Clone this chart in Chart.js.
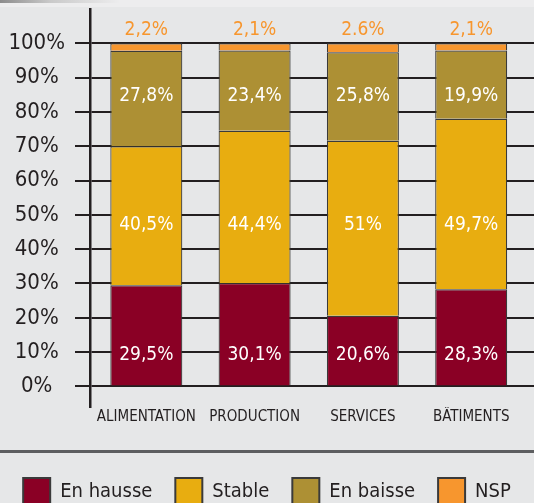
<!DOCTYPE html>
<html>
<head>
<meta charset="utf-8">
<script src="https://cdn.jsdelivr.net/npm/chart.js@4"></script>
<style>
html, body { margin: 0; padding: 0; background: #e6e7e8; overflow: hidden; }
#wrap { position: relative; width: 534px; height: 503px; overflow: hidden; }
#strip { position: absolute; left: 0; top: 0; width: 534px; height: 7px; background: #ededee; }
#shade { position: absolute; left: 0; top: 0; width: 534px; height: 3px; background: linear-gradient(to right, #8c8c8c 0, #c9c9c9 50px, rgba(236,236,236,0) 120px); }
#rule { position: absolute; left: 0; top: 450px; width: 534px; height: 3px; background: #5d5e60; }
canvas { position: absolute; left: 0; top: 0; }
</style>
</head>
<body>
<div id="wrap">
  <div id="strip"></div>
  <div id="shade"></div>
  <div id="rule"></div>
  <canvas id="myChart" width="534" height="515"></canvas>
</div>
<script>
const categories = ['ALIMENTATION', 'PRODUCTION', 'SERVICES', 'BÂTIMENTS'];
const enHausse = [29.5, 30.1, 20.6, 28.3];
const stable = [40.5, 44.4, 51, 49.7];
const enBaisse = [27.8, 23.4, 25.8, 19.9];
const nsp = [2.2, 2.1, 2.6, 2.1];
const nspText = ['2,2%', '2,1%', '2.6%', '2,1%'];
const yTicks = [0, 10, 20, 30, 40, 50, 60, 70, 80, 90, 100];

const family = '"DejaVu Sans Condensed", "Liberation Sans Narrow", sans-serif';
const ink = '#231f20';

const pct = v => String(v).replace('.', ',') + '%';
const toPoints = arr => arr.map((v, i) => ({ x: i, y: v }));

// texte des valeurs dans / au-dessus des barres
const valueLabels = {
    id: 'valueLabels',
    afterDatasetsDraw(chart) {
        const ctx = chart.ctx;
        const yScale = chart.scales.y;
        ctx.save();
        ctx.font = '19px ' + family;
        ctx.textAlign = 'center';
        ctx.textBaseline = 'middle';
        chart.data.datasets.forEach((ds, i) => {
            chart.getDatasetMeta(i).data.forEach((bar, j) => {
                ctx.fillStyle = ds.labelColor;
                ctx.fillText(ds.labelText[j], bar.x, yScale.getPixelForValue(ds.labelRow));
            });
        });
        ctx.restore();
    }
};

const noPad = s => { s.paddingTop = 0; s.paddingBottom = 0; s.paddingLeft = 0; s.paddingRight = 0; };

const context = document.getElementById('myChart').getContext('2d');
const myChart = new Chart(context, {
    type: 'bar',
    data: {
        datasets: [
            { label: 'En hausse', data: toPoints(enHausse), backgroundColor: '#8a0025',
              labelText: enHausse.map(pct), labelRow: 9, labelColor: '#ffffff' },
            { label: 'Stable', data: toPoints(stable), backgroundColor: '#e8ad10',
              labelText: stable.map(pct), labelRow: 47, labelColor: '#ffffff' },
            { label: 'En baisse', data: toPoints(enBaisse), backgroundColor: '#ad9034',
              labelText: enBaisse.map(pct), labelRow: 84.6, labelColor: '#ffffff' },
            { label: 'NSP', data: toPoints(nsp), backgroundColor: '#f7962e',
              labelText: nspText, labelRow: 104, labelColor: '#f7962e' }
        ]
    },
    options: {
        responsive: false,
        animation: false,
        layout: { padding: { top: 9, left: 0, right: 0, bottom: 0 } },
        datasets: {
            bar: { borderColor: '#3a3a3a', borderWidth: 1.2, barPercentage: 0.665, categoryPercentage: 1 }
        },
        plugins: {
            tooltip: { enabled: false },
            legend: {
                position: 'bottom',
                labels: {
                    boxWidth: 27,
                    boxHeight: 27,
                    padding: 23,
                    color: ink,
                    font: { family: family, size: 20 },
                    generateLabels: chart => Chart.defaults.plugins.legend.labels.generateLabels(chart)
                        .map(l => Object.assign(l, { lineWidth: 2, strokeStyle: '#3a3a3a' }))
                }
            }
        },
        scales: {
            x: {
                type: 'linear',
                stacked: true,
                min: -0.52,
                max: 3.58,
                offset: false,
                grid: { display: false, drawTicks: false },
                border: { display: false },
                ticks: {
                    autoSkip: false,
                    maxRotation: 0,
                    padding: 1,
                    color: ink,
                    font: { family: family, size: 15 },
                    callback: v => categories[v]
                },
                afterBuildTicks: s => { s.ticks = categories.map((c, i) => ({ value: i })); },
                afterFit: s => { s.height = 48; noPad(s); }
            },
            y: {
                stacked: true,
                min: -6,
                max: 110,
                grid: { color: ink, lineWidth: 2, tickLength: 15 },
                border: { color: ink, width: 2.5 },
                ticks: {
                    padding: 10,
                    crossAlign: 'center',
                    color: ink,
                    font: { family: family, size: 22 },
                    callback: v => v + '%'
                },
                afterBuildTicks: s => { s.ticks = yTicks.map(v => ({ value: v })); },
                afterFit: s => { s.width = 90; noPad(s); }
            }
        }
    },
    plugins: [valueLabels]
});
</script>
</body>
</html>
